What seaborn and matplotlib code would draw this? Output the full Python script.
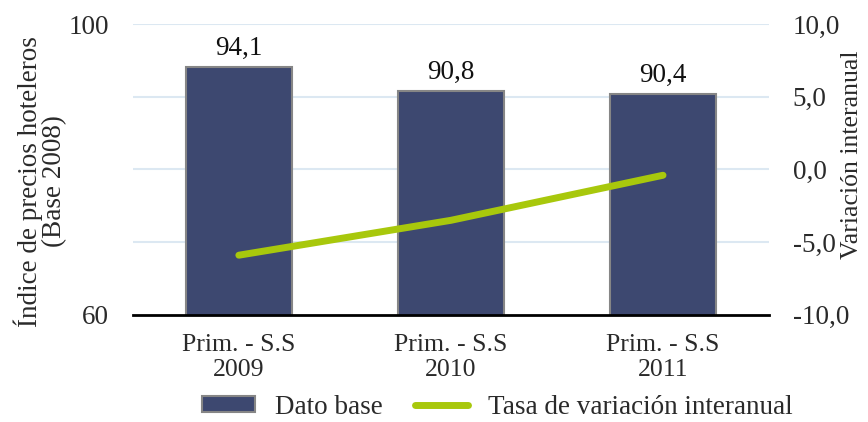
import matplotlib
matplotlib.use("Agg")
import matplotlib.pyplot as plt
import seaborn as sns
import pandas as pd
from matplotlib.lines import Line2D
from matplotlib.patches import Patch

# Hotel price index (base 2008) and year-on-year change, summer season
categories = ["Prim. - S.S\n2009", "Prim. - S.S\n2010", "Prim. - S.S\n2011"]
index_values = [94.1, 90.8, 90.4]
yoy_change = [-5.9, -3.5, -0.4]

bar_label = "Dato base"
line_label = "Tasa de variación interanual"

BAR_COLOR = "#3d4870"
BAR_EDGE = "#868686"
LINE_COLOR = "#a8c80c"
GRID_COLOR = "#dce8f2"
TEXT_COLOR = "#2a2a2a"

TXT = 18.5
NUM = 19.5

sns.set_theme(style="white")
plt.rcParams["font.family"] = ["Liberation Serif", "DejaVu Serif"]
plt.rcParams["text.color"] = TEXT_COLOR
plt.rcParams["axes.labelcolor"] = TEXT_COLOR
plt.rcParams["xtick.color"] = TEXT_COLOR
plt.rcParams["ytick.color"] = TEXT_COLOR

df = pd.DataFrame({"periodo": categories, "indice": index_values, "variacion": yoy_change})

fig = plt.figure(figsize=(8.68, 4.22), dpi=100)
ax = fig.add_axes([0.153, 0.254, 0.733, 0.689])

sns.barplot(data=df, x="periodo", y="indice", ax=ax, color=BAR_COLOR,
            width=0.5, edgecolor=BAR_EDGE, linewidth=1.5, saturation=1, zorder=2)
ax.set_ylim(60, 100)
ax.set_xlim(-0.5, 2.5)
ax.set_yticks([60, 100])
ax.set_yticklabels(["60", "100"], fontsize=NUM)
for y in [70, 80, 90, 100]:
    ax.axhline(y, color=GRID_COLOR, linewidth=1.5, zorder=0)

for i, v in enumerate(index_values):
    ax.text(i, v + 0.8, f"{v:.1f}".replace(".", ","), ha="center", va="bottom",
            fontsize=NUM, color="#111111")

ax.set_xlabel("")
ax.set_ylabel("Índice de precios hoteleros\n(Base 2008)", fontsize=19.5, linespacing=0.95)
ax.yaxis.set_label_coords(-0.104, 0.46)
ax.tick_params(axis="x", labelsize=TXT, length=0, pad=14)
ax.tick_params(axis="y", length=0, pad=17)
for t in ax.get_xticklabels():
    t.set_linespacing(1.15)

for s in ["top", "left", "right"]:
    ax.spines[s].set_visible(False)
ax.spines["bottom"].set_color("black")
ax.spines["bottom"].set_linewidth(2)
ax.set_xticks([-0.5, 2.5], minor=True)
ax.tick_params(axis="x", which="minor", length=5, width=2, color="black", direction="out")

ax2 = ax.twinx()
sns.lineplot(x=[0, 1, 2], y=yoy_change, ax=ax2, color=LINE_COLOR, linewidth=5,
             sort=False, solid_capstyle="round", zorder=3)
ax2.set_ylim(-10, 10)
ticks = [-10, -5, 0, 5, 10]
ax2.set_yticks(ticks)
ax2.set_yticklabels([f"{t:.1f}".replace(".", ",") for t in ticks], fontsize=NUM)
ax2.tick_params(axis="y", length=0, pad=17)
ax2.set_ylabel("Variación interanual", fontsize=TXT)
ax2.yaxis.set_label_coords(1.113, 0.55)
for s in ax2.spines.values():
    s.set_visible(False)
ax2.set_xlim(-0.5, 2.5)

handles = [
    Patch(facecolor=BAR_COLOR, edgecolor=BAR_EDGE, linewidth=1.5, label=bar_label),
    Line2D([0], [0], color=LINE_COLOR, linewidth=5, solid_capstyle="round", label=line_label),
]
fig.legend(handles=handles, loc="center", bbox_to_anchor=(0.573, 0.035), ncol=2,
           frameon=False, fontsize=19.5, handlelength=1.96, handleheight=0.5,
           columnspacing=1.18, handletextpad=0.74, borderaxespad=0, borderpad=0)

fig.savefig("out.png", dpi=100)
